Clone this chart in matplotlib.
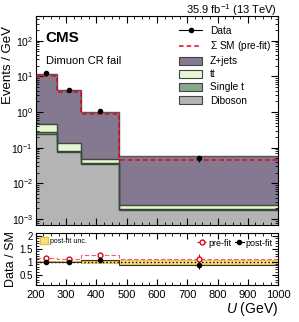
import matplotlib
matplotlib.use("Agg")
import matplotlib.pyplot as plt
import numpy as np
from matplotlib.lines import Line2D
from matplotlib.patches import Patch
from matplotlib.ticker import LogLocator, MultipleLocator, NullFormatter

plt.rcParams['font.family'] = ['Liberation Sans', 'DejaVu Sans']
plt.rcParams['mathtext.fontset'] = 'custom'
plt.rcParams['mathtext.rm'] = 'Liberation Sans'
plt.rcParams['mathtext.it'] = 'Liberation Sans:italic'

# binning and yields (events / GeV)
edges = [200, 270, 350, 475, 1000]
diboson = [0.25, 0.075, 0.034, 0.0018]
single_t = [0.02, 0.006, 0.003, 0.0001]
ttbar = [0.20, 0.055, 0.011, 0.0006]
zjets = [11.5, 4.15, 0.95, 0.055]
data = [12.3, 4.2, 1.07, 0.05]
data_err = [0.4, 0.23, 0.09, 0.01]
prefit = [10.2, 3.7, 0.86, 0.045]

# ratio panel
ratio_post = [1.0, 0.99, 1.06, 0.86]
ratio_post_err = [0.03, 0.04, 0.08, 0.13]
ratio_pre = [1.14, 1.12, 1.26, 1.12]
ratio_pre_err = [0.03, 0.04, 0.09, 0.16]
band_unc = [0.03, 0.03, 0.04, 0.08]

edges = np.array(edges)
centers = 0.5 * (edges[1:] + edges[:-1])

fig = plt.figure(figsize=(2.99, 3.22), dpi=100)
ax = fig.add_axes([0.120, 0.301, 0.810, 0.649])
rax = fig.add_axes([0.120, 0.115, 0.810, 0.161])

colors = {'Z+jets': '#857891', 'tt': '#e6f5d2', 'Single t': '#88a88c', 'Diboson': '#b4b4b4'}
edgec = {'Z+jets': '#555555', 'tt': '#3c4a3c', 'Single t': '#2f4a33', 'Diboson': '#444444'}

comps = [('Diboson', diboson), ('Single t', single_t), ('tt', ttbar), ('Z+jets', zjets)]
bottom = np.zeros(len(centers))
for name, vals in comps:
    top = bottom + np.array(vals)
    ax.stairs(top, edges, baseline=bottom if name != 'Diboson' else 1e-5, fill=True,
              color=colors[name], zorder=1)
    ax.stairs(top, edges, baseline=None, color=edgec[name], lw=1.0, zorder=2)
    bottom = top

ax.stairs(prefit, edges, baseline=None, color='#e8001a', lw=1.1, ls=(0, (3, 2)), zorder=3)
ax.errorbar(centers, data, yerr=data_err, fmt='o', color='black', ms=3, lw=0.8, zorder=4)

ax.set_yscale('log')
ax.set_ylim(6.8e-4, 490)
ax.set_xlim(200, 1000)
ax.set_ylabel('Events / GeV', fontsize=9.5, loc='top')
ax.yaxis.set_label_coords(-0.09, 0.955)
ax.tick_params(which='both', direction='in', top=True, right=True, labelsize=7.5)
ax.tick_params(which='major', length=5, pad=2)
ax.tick_params(which='minor', length=2.5)
ax.yaxis.set_major_locator(LogLocator(base=10, numticks=10))
ax.yaxis.set_minor_locator(LogLocator(base=10, subs=np.arange(2, 10) * 0.1, numticks=20))
ax.yaxis.set_minor_formatter(NullFormatter())
ax.xaxis.set_major_locator(MultipleLocator(100))
ax.xaxis.set_minor_locator(MultipleLocator(25))
ax.set_xticklabels([])

ax.text(0.04, 0.93, 'CMS', transform=ax.transAxes, fontsize=11, fontweight='bold', va='top')
ax.text(0.04, 0.81, 'Dimuon CR fail', transform=ax.transAxes, fontsize=8, va='top')
fig.text(0.925, 1 - 14 / 322, '35.9 fb$^{-1}$ (13 TeV)', fontsize=8,
         ha='right', va='baseline')

handles = [
    Line2D([], [], color='black', marker='o', ms=3, lw=0.8),
    Line2D([], [], color='#e8001a', lw=1.1, ls=(0, (3, 2))),
    Patch(facecolor=colors['Z+jets'], edgecolor='#444444', lw=0.8),
    Patch(facecolor=colors['tt'], edgecolor='#444444', lw=0.8),
    Patch(facecolor=colors['Single t'], edgecolor='#444444', lw=0.8),
    Patch(facecolor=colors['Diboson'], edgecolor='#444444', lw=0.8),
]
labels = ['Data', r'$\Sigma$ SM (pre-fit)', 'Z+jets', 'tt', 'Single t', 'Diboson']
ax.legend(handles, labels, loc='upper right', bbox_to_anchor=(1.0, 0.985), fontsize=7.3,
          frameon=False, handlelength=2.2, handleheight=0.9, labelspacing=0.3,
          borderaxespad=0.3)

# ratio panel
band_unc = np.array(band_unc)
rax.stairs(1 + band_unc, edges, baseline=1 - band_unc, fill=True, color='#f5e08a',
           zorder=1)
rax.stairs(1 + band_unc, edges, baseline=None, color='#f0c030', lw=0.6, zorder=1)
rax.stairs(1 - band_unc, edges, baseline=None, color='#f0c030', lw=0.6, zorder=1)
rax.axhline(1, color='black', ls=':', lw=1.0, zorder=2)
rax.stairs(ratio_pre, edges, baseline=None, color='#f06070', lw=0.8, ls=(0, (4, 2)), zorder=2)
rax.stairs(ratio_post, edges, baseline=None, color='#333333', lw=0.8, zorder=2)
rax.errorbar(centers, ratio_pre, yerr=ratio_pre_err, fmt='o', mfc='white', mec='#e8001a',
             ecolor='#e8001a', ms=3.5, lw=0.8, zorder=3)
rax.errorbar(centers, ratio_post, yerr=ratio_post_err, fmt='o', color='black', ms=3,
             lw=0.8, zorder=4)

rax.set_xlim(200, 1000)
rax.set_ylim(0.1, 2.1)
rax.set_ylabel('Data / SM', fontsize=9, labelpad=2)
rax.set_xlabel('$U$ (GeV)', fontsize=10, loc='right', labelpad=0)
rax.yaxis.set_major_locator(MultipleLocator(0.5))
rax.yaxis.set_minor_locator(MultipleLocator(0.1))
rax.xaxis.set_major_locator(MultipleLocator(100))
rax.xaxis.set_minor_locator(MultipleLocator(25))
rax.tick_params(which='both', direction='in', top=True, right=True)
rax.tick_params(axis='y', labelsize=7, pad=2)
rax.tick_params(axis='x', labelsize=8)
rax.tick_params(which='major', length=4)
rax.tick_params(which='minor', length=2)
rax.set_yticks([0.5, 1, 1.5, 2])
rax.set_yticklabels(['0.5', '1', '1.5', '2'])

rleg1 = rax.legend([Patch(facecolor='#f5e08a', edgecolor='#f0c030')], ['post-fit unc.'],
                   loc='upper left', fontsize=5, frameon=False, handlelength=1.2,
                   handleheight=1.2, borderaxespad=0.2, handletextpad=0.2)
rax.add_artist(rleg1)
pre_h = Line2D([], [], color='#e8001a', marker='o', mfc='white', ms=3.5, lw=0.8,
               ls=(0, (2, 1)))
post_h = Line2D([], [], color='black', marker='o', ms=3, lw=0.8)
rax.legend([pre_h, post_h], ['pre-fit', 'post-fit'], loc='upper right', ncol=2,
           fontsize=6.5, frameon=False, handlelength=1.0, columnspacing=0.4,
           handletextpad=0.2, borderaxespad=0.2)

fig.savefig('out.png', dpi=100)
